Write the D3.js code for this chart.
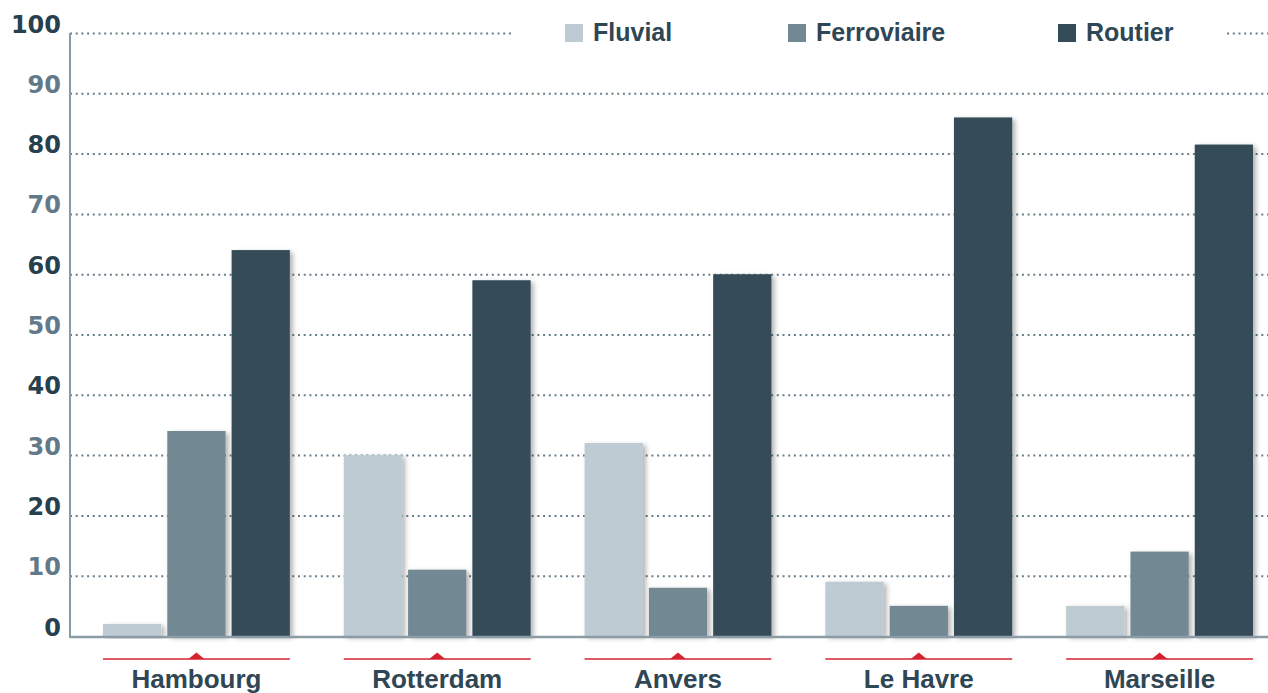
<!DOCTYPE html>
<html>
<head>
<meta charset="utf-8">
<script src="https://cdn.jsdelivr.net/npm/d3@7"></script>
<style>
  html, body { margin: 0; padding: 0; background: #fff; }
  svg { display: block; font-family: "Liberation Sans", Arial, Helvetica, sans-serif; }
</style>
</head>
<body>
<svg id="chart" width="1268" height="693"></svg>
<script>
// data
var cities = ["Hambourg", "Rotterdam", "Anvers", "Le Havre", "Marseille"];
var modes = ["Fluvial", "Ferroviaire", "Routier"];
var fluvial = [2, 30, 32, 9, 5];
var ferroviaire = [34, 11, 8, 5, 14];
var routier = [64, 59, 60, 86, 81.5];
var yTicks = [0, 10, 20, 30, 40, 50, 60, 70, 80, 90, 100];

var colors = {"Fluvial": "#bfcbd3", "Ferroviaire": "#728893", "Routier": "#344c59"};
var values = {"Fluvial": fluvial, "Ferroviaire": ferroviaire, "Routier": routier};

var svg = d3.select("#chart");
var W = 1268, axisX = 70;

var y = d3.scaleLinear().domain([0, 100]).range([636, 33]);
var x0 = d3.scaleBand().domain(cities).range([103, 1253]).paddingInner(0.224).paddingOuter(0);
var x1 = d3.scaleBand().domain(modes).range([0, x0.bandwidth()]).paddingInner(0.094);

// shadow filter
var defs = svg.append("defs");
defs.append("filter")
  .attr("id", "shadow")
  .attr("x", "-20%").attr("y", "-20%").attr("width", "150%").attr("height", "140%")
  .append("feDropShadow")
  .attr("dx", 3).attr("dy", 2)
  .attr("stdDeviation", 2.5)
  .attr("flood-color", "#000")
  .attr("flood-opacity", 0.3);

/**
Y axis + dotted grid
*/
var yAxis = svg.append("g")
  .attr("transform", "translate(" + axisX + ",0)")
  .call(d3.axisLeft(y).tickValues(yTicks).tickSize(-(W - axisX)).tickPadding(9).tickFormat(d3.format("d")));

yAxis.select(".domain").remove();
yAxis.selectAll(".tick line")
  .style("stroke", "#667d8a")
  .style("stroke-width", "2px")
  .style("stroke-dasharray", "2,3.7")
  .style("opacity", function(d) { return d == 0 ? 0 : 1; });
yAxis.selectAll(".tick text")
  .attr("dy", "0")
  .attr("y", -1)
  .style("font-family", "'DejaVu Sans', sans-serif")
  .style("font-size", "24px")
  .style("font-weight", "bold")
  .style("fill", function(d) { return (d / 10) % 2 == 0 ? "#26404e" : "#62798a"; });

/**
Bars
*/
var groups = svg.append("g").selectAll("g")
  .data(cities)
  .join("g")
  .attr("transform", function(d) { return "translate(" + x0(d) + ",0)"; });

groups.selectAll("rect")
  .data(function(d, i) { return modes.map(function(m) { return {mode: m, value: values[m][i]}; }); })
  .join("rect")
  .attr("x", function(d) { return x1(d.mode); })
  .attr("y", function(d) { return y(d.value); })
  .attr("width", x1.bandwidth())
  .attr("height", function(d) { return y(0) - y(d.value); })
  .style("fill", function(d) { return colors[d.mode]; })
  .attr("filter", "url(#shadow)");

// axis lines
svg.append("line")
  .attr("x1", axisX).attr("x2", W)
  .attr("y1", y(0) + 1).attr("y2", y(0) + 1)
  .style("stroke", "#8b9ca7")
  .style("stroke-width", "2.5px");
svg.append("line")
  .attr("x1", axisX).attr("x2", axisX)
  .attr("y1", y(100)).attr("y2", y(0) + 2)
  .style("stroke", "#8a9aa5")
  .style("stroke-width", "2px");

/**
City labels with red markers
*/
var labels = svg.append("g").selectAll("g")
  .data(cities)
  .join("g")
  .attr("transform", function(d) { return "translate(" + x0(d) + ",0)"; });

labels.append("line")
  .attr("x1", 0).attr("x2", x0.bandwidth())
  .attr("y1", 659).attr("y2", 659)
  .style("stroke", "#d42330")
  .style("stroke-width", "1.6px");

labels.append("path")
  .attr("d", function() {
    var c = x0.bandwidth() / 2;
    return "M" + (c - 8) + ",659L" + c + ",652.5L" + (c + 8) + ",659Z";
  })
  .style("fill", "#d42330");

labels.append("text")
  .attr("x", x0.bandwidth() / 2)
  .attr("y", 688)
  .attr("text-anchor", "middle")
  .style("font-size", "26px")
  .style("font-weight", "bold")
  .style("fill", "#2f4654")
  .text(function(d) { return d; });

/**
Legend
*/
svg.append("rect")
  .attr("x", 512).attr("y", 18)
  .attr("width", 712).attr("height", 30)
  .style("fill", "#fff");

var legendX = [565, 788, 1058];
var legend = svg.append("g").selectAll("g")
  .data(modes)
  .join("g")
  .attr("transform", function(d, i) { return "translate(" + legendX[i] + ",0)"; });

legend.append("rect")
  .attr("x", 0).attr("y", 24)
  .attr("width", 18).attr("height", 18)
  .style("fill", function(d) { return colors[d]; });

legend.append("text")
  .attr("x", 28).attr("y", 41)
  .style("font-size", "25px")
  .style("font-weight", "bold")
  .style("fill", "#2f4654")
  .text(function(d) { return d; });
</script>
</body>
</html>
